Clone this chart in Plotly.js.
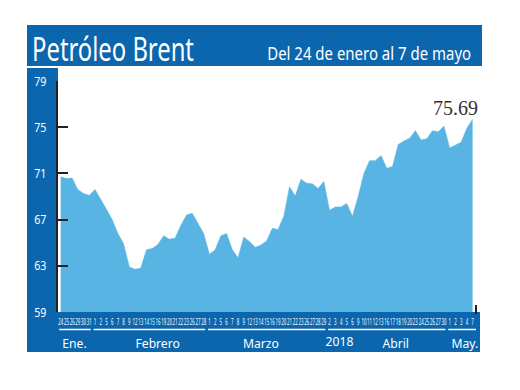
<!DOCTYPE html>
<html>
<head>
<meta charset="utf-8">
<script src="https://cdn.plot.ly/plotly-3.0.1.min.js"></script>
<style>html,body{margin:0;padding:0;background:#fff;}#chart{width:520px;height:390px;}</style>
</head>
<body>
<div id="chart"></div>
<script>
// ---- data ----
const days = [24,25,26,29,30,31,
  1,2,5,6,7,8,9,12,13,14,15,16,19,20,21,22,23,26,27,28,
  1,2,5,6,7,8,9,12,13,14,15,16,19,20,21,22,23,26,27,28,29,
  2,3,4,5,6,9,10,11,12,13,16,17,18,19,20,23,24,25,26,27,30,
  1,2,3,4,7];
const prices = [70.7,70.55,70.6,69.6,69.25,69.1,
  69.6,68.8,67.9,67.0,65.8,64.9,62.9,62.7,62.8,64.4,64.5,64.85,65.6,65.3,65.4,66.5,67.4,67.55,66.7,65.8,
  64.0,64.4,65.6,65.8,64.4,63.7,65.5,65.1,64.6,64.8,65.15,66.25,66.15,67.3,69.85,69.05,70.5,70.15,70.1,69.7,70.3,
  67.8,68.1,68.1,68.4,67.3,69.0,71.0,72.1,72.1,72.55,71.45,71.6,73.5,73.8,74.05,74.7,73.9,74.0,74.7,74.6,75.1,
  73.2,73.45,73.7,74.9,75.69];
const monthNames = ['Ene.','Febrero','Marzo','Abril','May.'];
const monthCounts = [6,20,21,21,5];
const yearLabel = '2018';
const yTicks = [59,63,67,71,75,79];
const titleText = 'Petróleo Brent';
const subtitleText = 'Del 24 de enero al 7 de mayo';

// ---- helpers ----
const W = 520, H = 390;
const px = v => v / W;
const py = v => 1 - v / H;
const idx = days.map((d, i) => i);
const BLUE = '#0b66ad';
const FILL = '#58b5e3';
const SANS = '"Noto Sans", "Open Sans", sans-serif';

// month groups
const groups = [];
let start = 0;
monthCounts.forEach((c, k) => { groups.push({name: monthNames[k], s: start, e: start + c - 1}); start += c; });
const labelShift = [0, 1.5, -1, 1.5, 0.7];

const shapes = [
  {type:'rect', xref:'paper', yref:'paper', x0:px(27), x1:px(482), y0:py(66), y1:py(25), fillcolor:BLUE, line:{width:0}, layer:'below'},
  {type:'rect', xref:'paper', yref:'paper', x0:px(27), x1:px(58), y0:py(352), y1:py(68), fillcolor:BLUE, line:{width:0}, layer:'below'},
  {type:'rect', xref:'paper', yref:'paper', x0:px(27), x1:px(480), y0:py(352), y1:py(312), fillcolor:BLUE, line:{width:0}, layer:'below'},
  {type:'line', xref:'paper', yref:'paper', x0:px(476), x1:px(476), y0:py(314), y1:py(305), line:{color:'#222', width:2}}
];
groups.forEach((g, k) => {
  shapes.push({type:'line', xref:'x', yref:'paper', x0:g.s - 0.25, x1:g.e + (k === groups.length-1 ? 0.7 : 0.25),
    y0:py(329.5), y1:py(329.5), line:{color:'#ffffff', width:1.5}});
});

const annotations = [
  {xref:'paper', yref:'paper', x:px(30), y:py(48), xanchor:'left', yanchor:'middle', showarrow:false,
   text:titleText, font:{family:SANS, size:32, color:'#ffffff'}},
  {xref:'paper', yref:'paper', x:px(473), y:py(53), xanchor:'right', yanchor:'middle', showarrow:false,
   text:subtitleText, font:{family:SANS, size:18, color:'#ffffff'}},
  {xref:'x', yref:'y', x:idx[idx.length-1], y:prices[prices.length-1], xanchor:'right', yanchor:'bottom',
   xshift:7, yshift:-2, showarrow:false, text:prices[prices.length-1].toFixed(2),
   font:{family:'"Liberation Serif", serif', size:20, color:'#333333'}}
];
groups.forEach((g, k) => {
  annotations.push({xref:'x', yref:'paper', x:(g.s + g.e)/2 + labelShift[k], y:py(343), xanchor:'center', yanchor:'middle',
    showarrow:false, text:g.name, font:{family:SANS, size:13.5, color:'#ffffff'}});
});
annotations.push({xref:'x', yref:'paper', x:groups[3].s + 1.8, y:py(341), xanchor:'center', yanchor:'middle',
  showarrow:false, text:yearLabel, font:{family:SANS, size:13.5, color:'#ffffff'}});

const trace = {
  x: idx, y: prices, type:'scatter', mode:'lines', fill:'tozeroy',
  fillcolor: FILL, line:{color: FILL, width:0.5}, hoverinfo:'skip'
};

const layout = {
  width: W, height: H,
  margin:{l:0, r:0, t:0, b:0},
  paper_bgcolor:'#ffffff', plot_bgcolor:'rgba(0,0,0,0)',
  showlegend:false,
  xaxis:{domain:[px(58), px(476)], range:[-0.47, 72.6], showgrid:false, zeroline:false, showline:false,
    tickmode:'array', tickvals: idx, ticktext: days.map(String), tickangle:0, ticks:'',
    ticklabelstandoff:3,
    tickfont:{family:SANS, size:9.5, color:'#ffffff'}, fixedrange:true},
  yaxis:{domain:[py(312), py(81)], range:[59, 79], showgrid:false, zeroline:false,
    showline:true, linecolor:'#222', linewidth:2,
    tickmode:'array', tickvals:yTicks, ticktext:yTicks.map(String),
    ticks:'inside', ticklen:10, tickwidth:2, tickcolor:'#222',
    ticklabelstandoff:7,
    tickfont:{family:SANS, size:13, color:'#ffffff'}, fixedrange:true},
  shapes: shapes,
  annotations: annotations
};

// horizontal condensing of text (the reference uses a condensed face)
function squeeze(el, s, origin) {
  const bb = el.getBBox();
  const ox = origin === 'left' ? bb.x : origin === 'right' ? bb.x + bb.width : bb.x + bb.width / 2;
  const t = el.getAttribute('transform') || '';
  el.setAttribute('transform', (t + ' translate(' + ox + ',0) scale(' + s + ',1) translate(' + (-ox) + ',0)').trim());
}
function annText(i) { return document.querySelector('.annotation[data-index="' + i + '"] .annotation-text'); }

Plotly.newPlot('chart', [trace], layout, {staticPlot:true, displayModeBar:false}).then(() => {
  const t0 = annText(0); if (t0) squeeze(t0, 162 / t0.getBBox().width, 'left');
  const t1 = annText(1); if (t1) squeeze(t1, 204 / t1.getBBox().width, 'right');
  for (let i = 3; i < 3 + groups.length + 1; i++) { const e = annText(i); if (e) squeeze(e, 0.9, 'center'); }
  document.querySelectorAll('.xtick text').forEach(e => squeeze(e, 0.46, 'center'));
  document.querySelectorAll('.ytick text').forEach(e => squeeze(e, 0.82, 'right'));
});
</script>
</body>
</html>
